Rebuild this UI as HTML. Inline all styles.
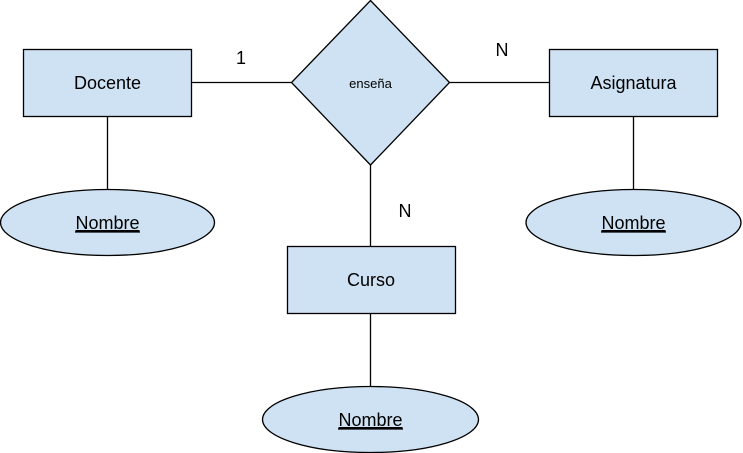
<!DOCTYPE html>
<html><head><style>body{margin:0;background:#fff}svg{display:block}</style></head><body>
<svg width="743" height="453" xmlns="http://www.w3.org/2000/svg" font-family="Liberation Sans, sans-serif">
<g stroke="#000" stroke-width="1.3" fill="none">
<line x1="191" y1="82.5" x2="291" y2="82.5"/>
<line x1="449" y1="82.5" x2="549" y2="82.5"/>
<line x1="370.5" y1="165" x2="370.5" y2="246"/>
<line x1="107.5" y1="116" x2="107.5" y2="189"/>
<line x1="633.5" y1="116" x2="633.5" y2="189"/>
<line x1="370.5" y1="313" x2="370.5" y2="386"/>
</g>
<g fill="#cfe2f3" stroke="#000" stroke-width="1.3">
<rect x="23.5" y="49.5" width="168" height="67"/>
<rect x="549.5" y="49.5" width="168" height="67"/>
<rect x="287.5" y="246.5" width="168" height="67"/>
<polygon points="370.5,0.5 449.5,82.5 370.5,165 291.5,82.5"/>
<ellipse cx="107.5" cy="222.5" rx="107" ry="33"/>
<ellipse cx="633.5" cy="222.5" rx="107.5" ry="33"/>
<ellipse cx="370.5" cy="419.5" rx="108" ry="33"/>
</g>
<g font-size="18" text-anchor="middle" fill="#000">
<text x="107.5" y="89">Docente</text>
<text x="633.5" y="89">Asignatura</text>
<text x="371" y="286">Curso</text>
<text x="370.5" y="88" font-size="13">enseña</text>
<text x="241" y="64">1</text>
<text x="502" y="56">N</text>
<text x="405" y="217">N</text>
<text x="107.5" y="229" text-decoration="underline">Nombre</text>
<text x="633.5" y="229" text-decoration="underline">Nombre</text>
<text x="370.5" y="426" text-decoration="underline">Nombre</text>
</g>
<g stroke="#000" stroke-width="1.2">
<line x1="75" y1="232" x2="140" y2="232"/>
<line x1="601" y1="232" x2="666" y2="232"/>
<line x1="338" y1="429" x2="403" y2="429"/>
</g>
</svg>
</body></html>
